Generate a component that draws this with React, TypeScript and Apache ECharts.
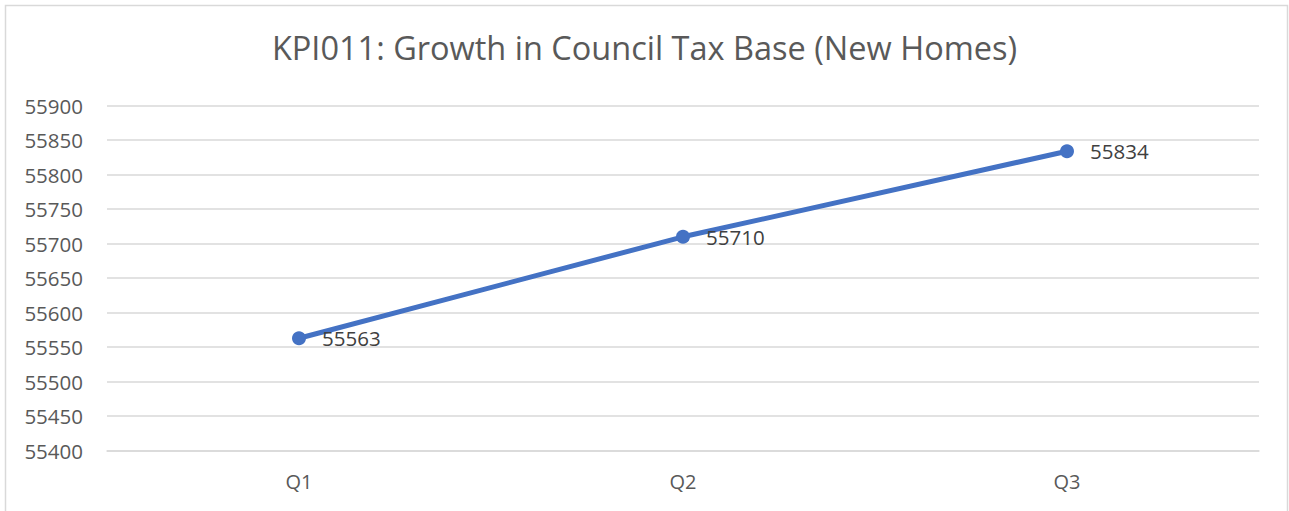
import React, { useEffect, useRef } from "react";
import * as echarts from "echarts";

const titleText = "KPI011: Growth in Council Tax Base (New Homes)";
const categories = ["Q1", "Q2", "Q3"];
const values = [55563, 55710, 55834];
const yMin = 55400;
const yMax = 55900;
const yStep = 50;

const FONT = "'Open Sans', 'Noto Sans', sans-serif";

export default function App() {
  const ref = useRef<HTMLDivElement>(null);
  useEffect(() => {
    const chart = echarts.init(ref.current!, null, { renderer: "svg" });
    chart.setOption({
      animation: false,
      backgroundColor: "#ffffff",
      title: {
        text: titleText,
        left: "center",
        top: 26,
        textStyle: { fontFamily: FONT, fontSize: 32.5, fontWeight: "normal", color: "#595959" },
      },
      graphic: [
        {
          type: "rect",
          shape: { x: 5.5, y: 5.5, width: 1282, height: 530 },
          style: { fill: "none", stroke: "#d9d9d9", lineWidth: 1.5 },
          silent: true,
        },
      ],
      grid: { left: 107, right: 30, top: 105.7, bottom: 60.3, containLabel: false },
      xAxis: {
        type: "category",
        data: categories,
        boundaryGap: true,
        axisLine: { show: true, lineStyle: { color: "#d9d9d9", width: 1.5 } },
        axisTick: { show: false },
        axisLabel: { fontFamily: FONT, fontSize: 20, color: "#595959", margin: 21 },
        splitLine: { show: false },
      },
      yAxis: {
        type: "value",
        min: yMin,
        max: yMax,
        interval: yStep,
        axisLine: { show: false },
        axisTick: { show: false },
        axisLabel: {
          fontFamily: FONT,
          fontSize: 20.5,
          color: "#595959",
          margin: 24,
          formatter: (v: number) => String(v),
        },
        splitLine: { show: true, lineStyle: { color: "#d9d9d9", width: 1.5 } },
      },
      series: [
        {
          type: "line",
          data: values,
          symbol: "circle",
          symbolSize: 14,
          lineStyle: { color: "#4472C4", width: 5 },
          itemStyle: { color: "#4472C4" },
          label: {
            show: true,
            position: "right",
            distance: 16,
            fontFamily: FONT,
            fontSize: 20.5,
            color: "#404040",
          },
        },
      ],
    });
    return () => chart.dispose();
  }, []);
  return (
    <div
      ref={ref}
      style={{ position: "fixed", left: 0, top: 0, width: 1289, height: 511 }}
    />
  );
}
